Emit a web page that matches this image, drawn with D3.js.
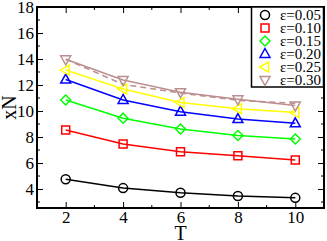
<!DOCTYPE html>
<html>
<head>
<meta charset="utf-8">
<script src="https://cdn.jsdelivr.net/npm/d3@7"></script>
<style>
  body { margin: 0; background: #fff; }
  svg { display: block; font-family: "Liberation Serif", "DejaVu Serif", serif; }
</style>
</head>
<body>
<svg id="chart" width="327" height="241"></svg>
<script>
const T = [2, 4, 6, 8, 10];
const eps005 = [4.75, 4.07, 3.72, 3.47, 3.32];
const eps010 = [8.54, 7.46, 6.86, 6.55, 6.24];
const eps015 = [10.85, 9.45, 8.62, 8.12, 7.85];
const eps020 = [12.42, 10.85, 9.95, 9.38, 9.05];
const eps025 = [13.15, 11.7, 10.65, 10.18, 9.88];
const eps030 = [13.98, 12.38, 11.45, 10.9, 10.42];
const eps030fit = [13.98, 12.05, 11.38, 10.82, 10.6];
const yTicks = [4, 6, 8, 10, 12, 14, 16, 18];
const xTicks = [2, 4, 6, 8, 10];

const series = [
  {label: "ε=0.05", values: eps005, color: "#000000", sym: "circle"},
  {label: "ε=0.10", values: eps010, color: "#ff0000", sym: "square"},
  {label: "ε=0.15", values: eps015, color: "#00ff00", sym: "diamond"},
  {label: "ε=0.20", values: eps020, color: "#0000ff", sym: "triUp"},
  {label: "ε=0.25", values: eps025, color: "#ffff00", sym: "triLeft"},
  {label: "ε=0.30", values: eps030, color: "#bc8f8f", sym: "triDown"}
];

const svg = d3.select("#chart");
const mLeft = 37, mRight = 324, mTop = 7, mBottom = 208;

const x = d3.scaleLinear().domain([1, 11]).range([mLeft, mRight]);
const y = d3.scaleLinear().domain([2.54, 18]).range([mBottom, mTop]);

function symPath(sym) {
  // marker outlines, centred at 0,0
  if (sym === "circle") return d3.symbol(d3.symbolCircle, 64)();
  if (sym === "square") return "M-4,-4H4V4H-4Z";
  if (sym === "diamond") return "M0,-5L5,0L0,5L-5,0Z";
  if (sym === "triUp") return "M0,-5.5L5,3.5H-5Z";
  if (sym === "triDown") return "M0,5.5L5,-3.5H-5Z";
  if (sym === "triLeft") return "M-5.5,0L3.5,-5V5Z";
}

const line = d3.line().x((d, i) => x(T[i])).y(d => y(d));

// dashed fit curve for eps=0.30
svg.append("path")
  .attr("d", line(eps030fit))
  .attr("fill", "none")
  .attr("stroke", "#bc8f8f")
  .attr("stroke-width", 1.5)
  .attr("stroke-dasharray", "6,4");

series.forEach(s => {
  svg.append("path")
    .attr("d", line(s.values))
    .attr("fill", "none")
    .attr("stroke", s.color)
    .attr("stroke-width", 1.5);
  svg.append("g").selectAll("path")
    .data(s.values)
    .enter().append("path")
    .attr("transform", (d, i) => "translate(" + x(T[i]) + "," + y(d) + ")")
    .attr("d", symPath(s.sym))
    .attr("fill", "none")
    .attr("stroke", s.color)
    .attr("stroke-width", 1.5);
});

// axes, ticks pointing inward, mirrored on top/right
const xMinor = d3.range(1, 12, 1).filter(v => xTicks.indexOf(v) < 0);
const yMinor = d3.range(3, 18, 1).filter(v => yTicks.indexOf(v) < 0);

const axB = svg.append("g").attr("transform", "translate(0," + mBottom + ")");
axB.call(d3.axisBottom(x).tickValues(xTicks).tickSize(-6).tickPadding(3).tickFormat(d3.format("d")));
axB.selectAll(".minor").data(xMinor).enter().append("line")
  .attr("x1", d => x(d)).attr("x2", d => x(d)).attr("y1", 0).attr("y2", -3).attr("stroke", "#000");

const axT = svg.append("g").attr("transform", "translate(0," + mTop + ")");
axT.call(d3.axisTop(x).tickValues(xTicks).tickSize(-6).tickFormat(""));
axT.selectAll(".minor").data(xMinor).enter().append("line")
  .attr("x1", d => x(d)).attr("x2", d => x(d)).attr("y1", 0).attr("y2", 3).attr("stroke", "#000");

const axL = svg.append("g").attr("transform", "translate(" + mLeft + ",0)");
axL.call(d3.axisLeft(y).tickValues(yTicks).tickSize(-6).tickPadding(3).tickFormat(d3.format("d")));
axL.selectAll(".minor").data(yMinor).enter().append("line")
  .attr("y1", d => y(d)).attr("y2", d => y(d)).attr("x1", 0).attr("x2", 3).attr("stroke", "#000");

const axR = svg.append("g").attr("transform", "translate(" + mRight + ",0)");
axR.call(d3.axisRight(y).tickValues(yTicks).tickSize(-6).tickFormat(""));
axR.selectAll(".minor").data(yMinor).enter().append("line")
  .attr("y1", d => y(d)).attr("y2", d => y(d)).attr("x1", 0).attr("x2", -3).attr("stroke", "#000");

svg.selectAll(".domain").remove();
svg.selectAll(".tick line").attr("stroke", "#000").attr("stroke-width", 1);
svg.selectAll(".tick text").attr("font-family", "Liberation Serif").attr("font-size", 17).attr("fill", "#000");

svg.append("rect")
  .attr("x", mLeft).attr("y", mTop)
  .attr("width", mRight - mLeft).attr("height", mBottom - mTop)
  .attr("fill", "none").attr("stroke", "#000").attr("stroke-width", 2);

// axis titles
svg.append("text")
  .attr("x", (mLeft + mRight) / 2).attr("y", 240)
  .attr("text-anchor", "middle")
  .attr("font-size", 20)
  .text("T");

svg.append("text")
  .attr("transform", "translate(16," + ((mTop + mBottom) / 2) + ") rotate(-90)")
  .attr("text-anchor", "middle")
  .attr("font-size", 20)
  .text("xN");

// legend
const lg = svg.append("g");
lg.append("rect")
  .attr("x", 251.5).attr("y", 7).attr("width", 72).attr("height", 80)
  .attr("fill", "#fff").attr("stroke", "#000").attr("stroke-width", 1.5);

series.forEach((s, i) => {
  const yy = 15 + i * 13;
  lg.append("path")
    .attr("transform", "translate(265," + yy + ")")
    .attr("d", symPath(s.sym))
    .attr("fill", "none")
    .attr("stroke", s.color)
    .attr("stroke-width", 1.5);
  lg.append("text")
    .attr("x", 280).attr("y", yy + 5)
    .attr("font-size", 15)
    .text(s.label);
});
</script>
</body>
</html>
